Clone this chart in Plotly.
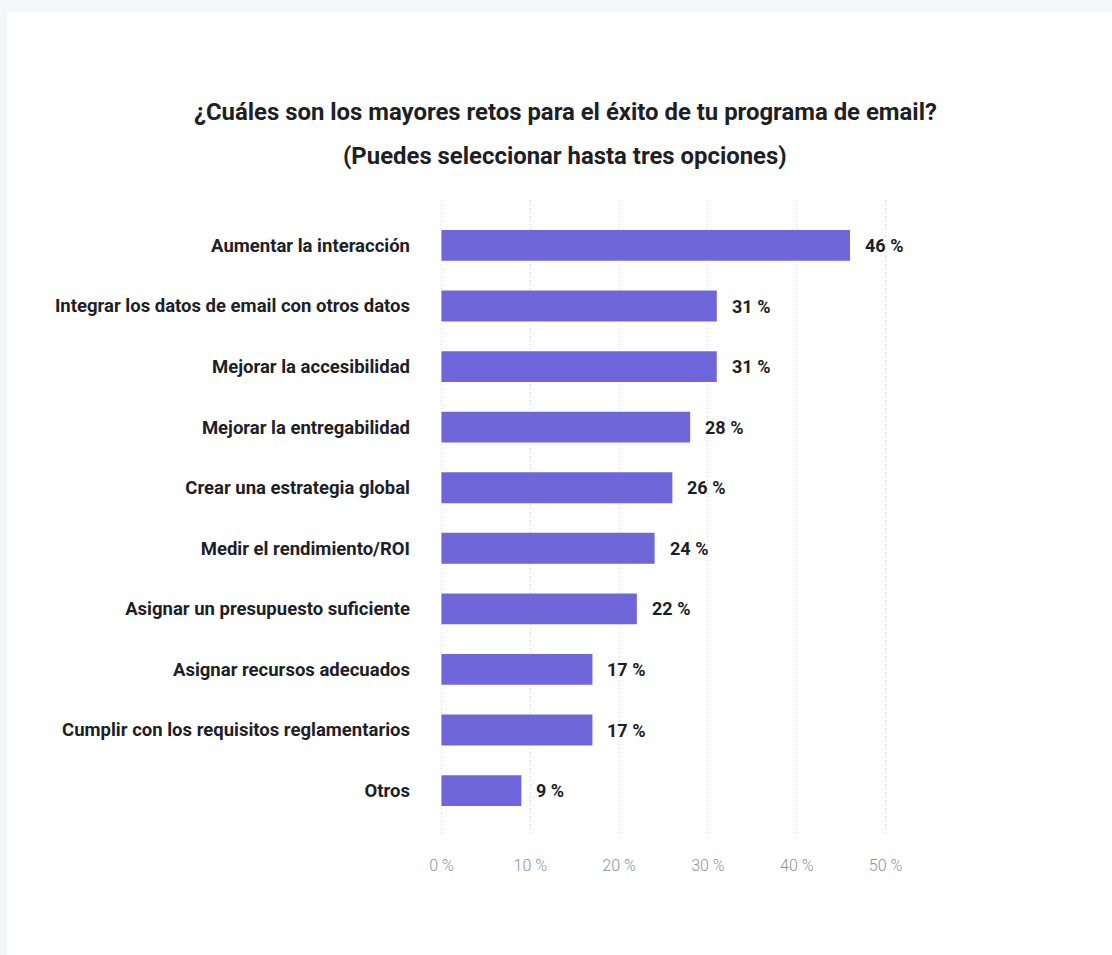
import plotly.graph_objects as go

categories = [
    "Aumentar la interacción",
    "Integrar los datos de email con otros datos",
    "Mejorar la accesibilidad",
    "Mejorar la entregabilidad",
    "Crear una estrategia global",
    "Medir el rendimiento/ROI",
    "Asignar un presupuesto suficiente",
    "Asignar recursos adecuados",
    "Cumplir con los requisitos reglamentarios",
    "Otros",
]
values = [46, 31, 31, 28, 26, 24, 22, 17, 17, 9]
tick_values = [0, 10, 20, 30, 40, 50]
tick_labels = [f"{t} %" for t in tick_values]

title_lines = [
    "¿Cuáles son los mayores retos para el éxito de tu programa de email?",
    "(Puedes seleccionar hasta tres opciones)",
]

W, H = 1112, 955
L, R, T, B = 437, 222, 200, 119
plot_w = W - L - R
plot_h = H - T - B

def px_x(p):
    return (p - L) / plot_w

def px_y(p):
    return (H - B - p) / plot_h

dark = "#1d2127"
fig = go.Figure()
fig.add_trace(go.Bar(
    x=values,
    y=categories,
    orientation="h",
    marker=dict(color="#6f67d9", line=dict(width=0)),
    width=0.51,
    hoverinfo="skip",
))

annotations = []
for c, v in zip(categories, values):
    annotations.append(dict(
        x=v, y=c, xref="x", yref="y", text=f"{v} %", showarrow=False,
        xanchor="left", yanchor="middle", xshift=13,
        font=dict(family="Roboto", size=18, color=dark, weight="bold"),
    ))

for i, line in enumerate(title_lines):
    annotations.append(dict(
        x=px_x(565), y=px_y(112 + 44 * i), xref="paper", yref="paper",
        text=line, showarrow=False, xanchor="center", yanchor="middle",
        font=dict(family="Roboto", size=23.9, color=dark, weight="bold"),
    ))

fig.update_layout(
    width=W, height=H,
    margin=dict(l=L, r=R, t=T, b=B, pad=0),
    paper_bgcolor="#f3f7fa",
    plot_bgcolor="white",
    showlegend=False,
    annotations=annotations,
    shapes=[dict(
        type="rect", xref="paper", yref="paper", layer="below",
        x0=px_x(7), x1=px_x(W + 5), y0=px_y(H + 5), y1=px_y(12),
        fillcolor="white", line=dict(width=0),
    )],
    xaxis=dict(
        range=[-0.5, 50.5], tickvals=tick_values, ticktext=tick_labels,
        showgrid=True, gridcolor="#d4d8dd", griddash="1px,3px", gridwidth=1,
        zeroline=False, showline=False, ticks="",
        ticklabelstandoff=18,
        tickfont=dict(family="Roboto", size=16, color="#87929d", weight=300),
        fixedrange=True,
    ),
    yaxis=dict(
        categoryorder="array", categoryarray=categories,
        range=[9.75, -0.75],
        showgrid=False, zeroline=False, showline=False, ticks="",
        ticklabelstandoff=26,
        tickfont=dict(family="Roboto", size=18.5, color=dark, weight="bold"),
        fixedrange=True,
    ),
)

fig.write_html("out.html")
